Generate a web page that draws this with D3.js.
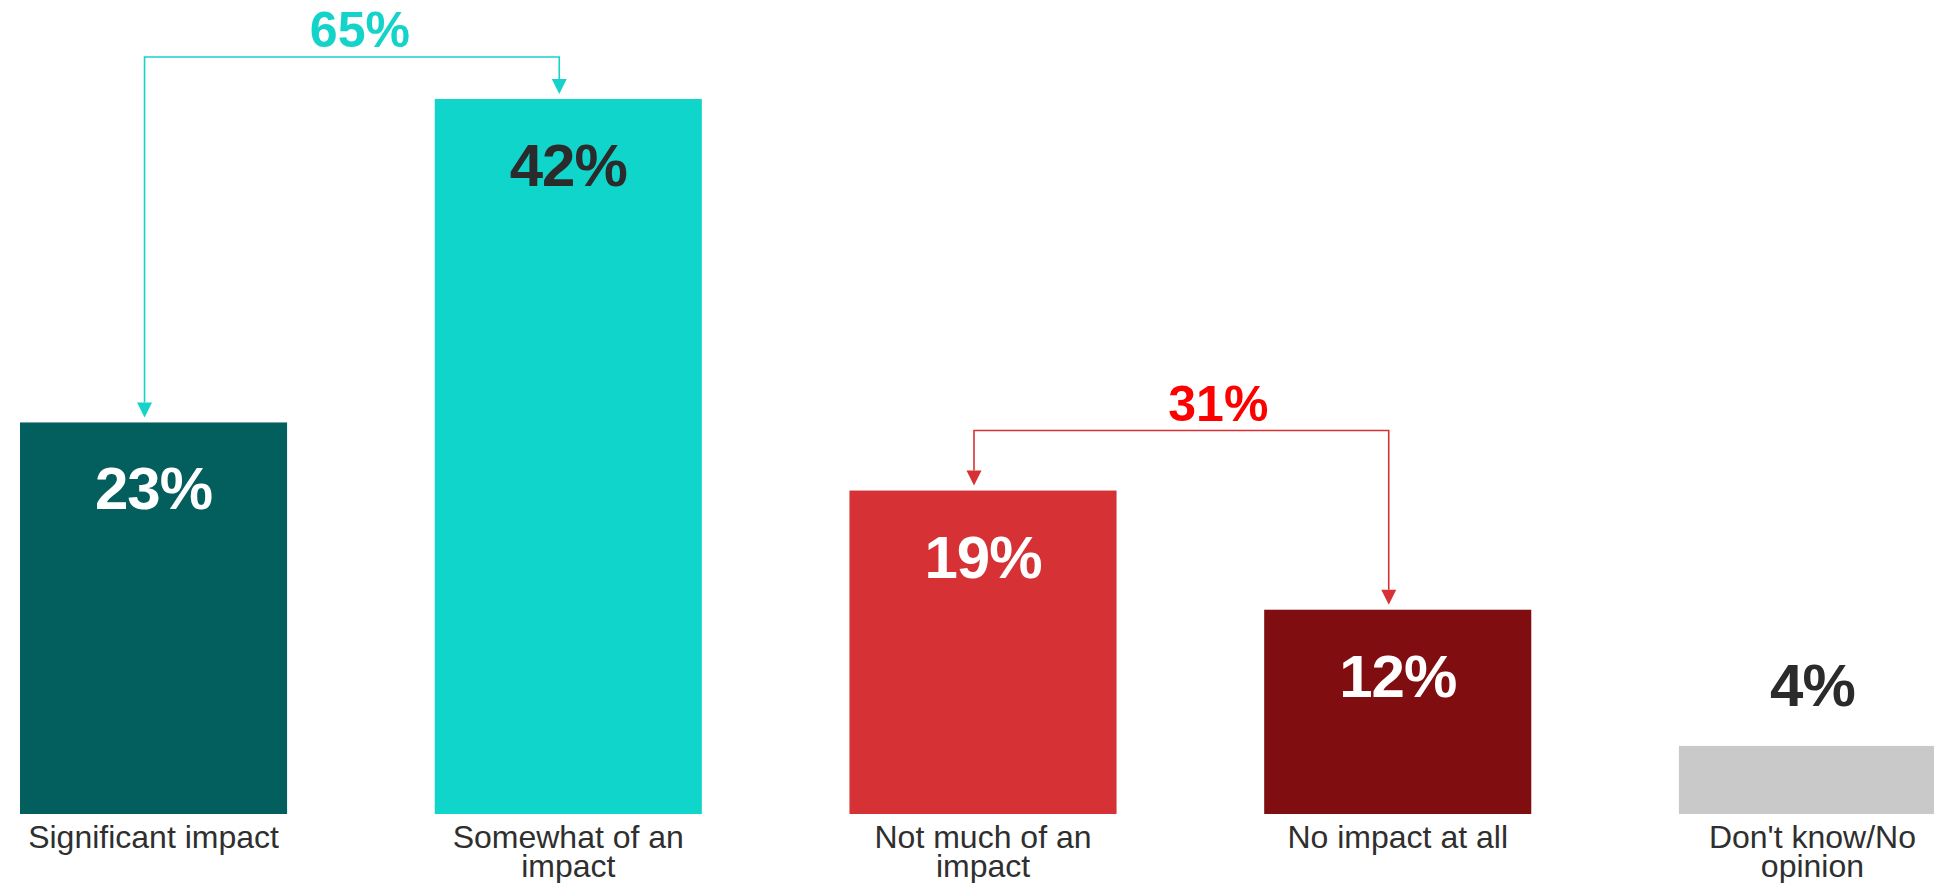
<!DOCTYPE html>
<html>
<head>
<meta charset="utf-8">
<script src="https://cdn.jsdelivr.net/npm/d3@7"></script>
<style>
  html, body { margin: 0; padding: 0; background: #ffffff; overflow: hidden; }
  svg { display: block; font-family: "Liberation Sans", Arial, sans-serif; }
</style>
</head>
<body>
<svg id="chart" width="1934" height="883"></svg>
<script>
// Survey responses: how much impact
const categories = [
  "Significant impact",
  "Somewhat of an impact",
  "Not much of an impact",
  "No impact at all",
  "Don't know/No opinion"
];
const values = [23, 42, 19, 12, 4];
const barColors = ["#035f5d", "#0fd5cb", "#d63135", "#800e11", "#c9c9c9"];
const labelColors = ["#ffffff", "#2b2b2b", "#ffffff", "#ffffff", "#2b2b2b"];

// Combined totals drawn as brackets over pairs of bars
const bracketPairs = [
  ["Significant impact", "Somewhat of an impact"],
  ["Not much of an impact", "No impact at all"]
];
const bracketColors = ["#16d3c9", "#d63135"];
const bracketTextColors = ["#14d3c8", "#ff0000"];

// Layout
const baseY = 814;
const svg = d3.select("#chart");

const x = d3.scaleBand()
  .domain(categories)
  .range([20, 1946])
  .paddingInner(0.356)
  .paddingOuter(0);

const y = d3.scaleLinear()
  .domain([0, 42])
  .range([baseY, 99]);

const data = categories.map((c, i) => ({
  cat: c, value: values[i], color: barColors[i], labelColor: labelColors[i]
}));

// Bars
svg.append("g").selectAll("rect")
  .data(data)
  .join("rect")
  .attr("x", d => x(d.cat))
  .attr("y", d => y(d.value))
  .attr("width", x.bandwidth())
  .attr("height", d => y(0) - y(d.value))
  .attr("fill", d => d.color);

// Value labels: inside tall bars, above short ones
svg.append("g").selectAll("text")
  .data(data)
  .join("text")
  .attr("x", d => x(d.cat) + x.bandwidth() / 2)
  .attr("y", d => (y(0) - y(d.value) > 100) ? y(d.value) + 87 : y(d.value) - 40)
  .attr("text-anchor", "middle")
  .attr("font-size", 60)
  .attr("font-weight", "bold")
  .attr("letter-spacing", -1)
  .attr("fill", d => d.labelColor)
  .text(d => d.value + "%");

// Category labels below the bars, wrapped to the bar width
const catLabels = svg.append("g").selectAll("text")
  .data(data)
  .join("text")
  .attr("text-anchor", "middle")
  .attr("font-size", 32)
  .attr("fill", "#2f2f2f");

catLabels.each(function(d) {
  const t = d3.select(this);
  const cx = x(d.cat) + x.bandwidth() / 2;
  const words = d.cat.split(" ");
  const lines = [];
  let line = [];
  const probe = t.append("tspan");
  words.forEach(w => {
    const trial = line.concat([w]).join(" ");
    probe.text(trial);
    if (probe.node().getComputedTextLength() > x.bandwidth() && line.length) {
      lines.push(line.join(" "));
      line = [w];
    } else {
      line.push(w);
    }
  });
  lines.push(line.join(" "));
  probe.remove();
  lines.forEach((ln, i) => {
    t.append("tspan")
      .attr("x", cx)
      .attr("y", 848 + i * 29)
      .text(ln);
  });
});

// Brackets with arrowheads and combined totals
const bracketLift = [42, 60];   // px above the taller bar of each pair
const labelDx = [8, 37];        // label shift from bracket midpoint
const armOffset = -9;           // arms sit slightly left of bar centres
const arrowW = 15, arrowH = 15, arrowGap = 5;

bracketPairs.forEach((pair, k) => {
  const vals = pair.map(c => values[categories.indexOf(c)]);
  const xs = pair.map(c => x(c) + x.bandwidth() / 2 + armOffset);
  const tops = vals.map(v => y(v));
  const lineY = Math.min(...tops) - bracketLift[k];
  const g = svg.append("g");
  const col = bracketColors[k];

  g.append("path")
    .attr("d", `M${xs[0]},${tops[0] - arrowGap - arrowH}V${lineY}H${xs[1]}V${tops[1] - arrowGap - arrowH}`)
    .attr("fill", "none")
    .attr("stroke", col)
    .attr("stroke-width", 1.6);

  xs.forEach((ax, j) => {
    const tipY = tops[j] - arrowGap;
    g.append("path")
      .attr("d", `M${ax - arrowW / 2},${tipY - arrowH}L${ax + arrowW / 2},${tipY - arrowH}L${ax},${tipY}Z`)
      .attr("fill", col);
  });

  g.append("text")
    .attr("x", (xs[0] + xs[1]) / 2 + labelDx[k])
    .attr("y", lineY - 10)
    .attr("text-anchor", "middle")
    .attr("font-size", 50)
    .attr("font-weight", "bold")
    .attr("fill", bracketTextColors[k])
    .text(d3.sum(vals) + "%");
});
</script>
</body>
</html>
